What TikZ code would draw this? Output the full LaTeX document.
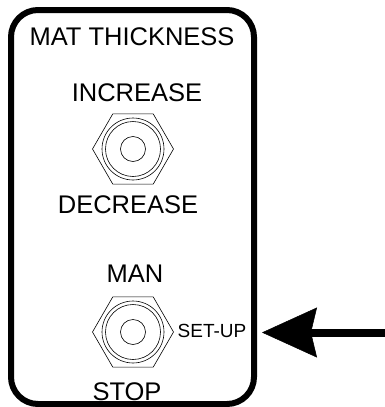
\documentclass[tikz,border=0pt]{standalone}
\usepackage{fontspec}
\setmainfont{Liberation Sans}
\usetikzlibrary{arrows.meta,shapes.geometric}

\begin{document}
\begin{tikzpicture}[x=1pt,y=-1pt,line width=0.6pt,
  panel/.style={line width=6pt,rounded corners=27pt},
  label/.style={inner sep=0pt,font=\fontsize{25.5}{27}\selectfont},
  small/.style={inner sep=0pt,font=\fontsize{19}{20}\selectfont},
  nut/.style={draw,regular polygon,regular polygon sides=6,minimum size=81pt,inner sep=0pt},
  ring/.style={draw,circle,inner sep=0pt},
  pointer/.style={line width=8pt,-{Stealth[length=55pt,width=50pt,inset=6pt,line width=0.5pt]}}]
  \useasboundingbox (0,0) rectangle (385,407);
  \draw[panel] (11,10) rectangle (254,404);

  \node[label] (title) at (132,37) {MAT THICKNESS};
  \node[label] (inc) at (137,93) {INCREASE};
  \node[label] (dec) at (128,205) {DECREASE};
  \node[label] (man) at (135,274) {MAN};
  \node[label] (stop) at (127,392) {STOP};
  \node[small] (setup) at (212,331) {SET-UP};

  \node[nut] (thick) at (133,149) {};
  \node[ring,minimum size=62pt] (thickouter) at (thick) {};
  \node[ring,minimum size=55pt] (thickinner) at (thick) {};
  \node[ring,minimum size=25pt] (thickcap) at (thick) {};

  \node[nut] (mode) at (133,332) {};
  \node[ring,minimum size=62pt] (modeouter) at (mode) {};
  \node[ring,minimum size=55pt] (modeinner) at (mode) {};
  \node[ring,minimum size=25pt] (modecap) at (mode) {};

  \coordinate (tail) at (385,332.5);
  \coordinate (tip) at (262,332.5);
  \draw[pointer] (tail) -- (tip);
\end{tikzpicture}
\end{document}
